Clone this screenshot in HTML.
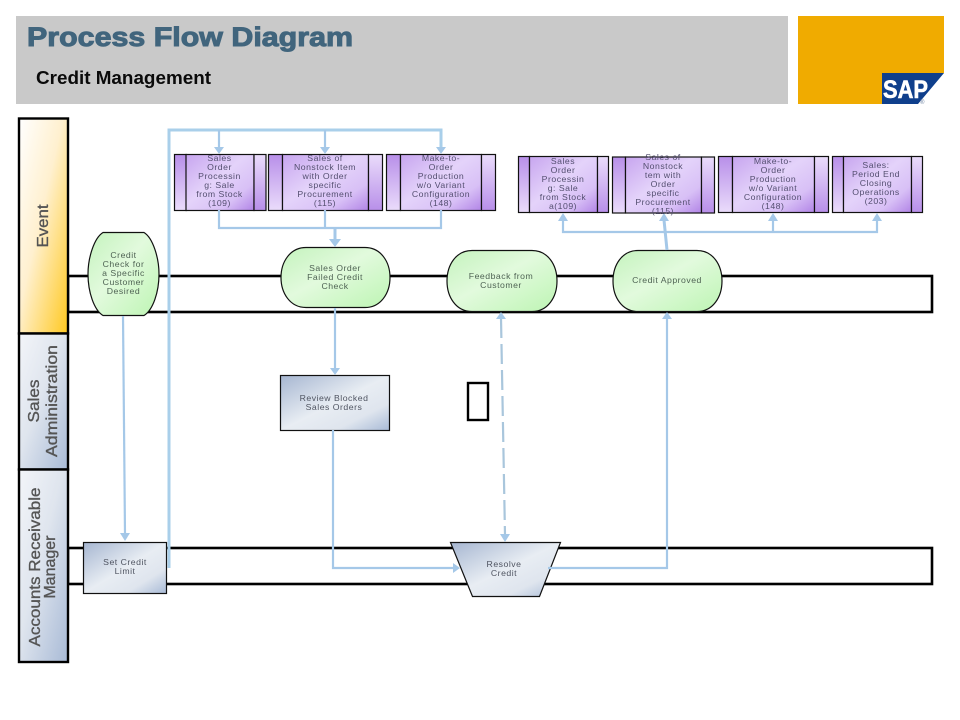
<!DOCTYPE html>
<html lang="en">
<head>
<meta charset="utf-8">
<title>Process Flow Diagram</title>
<style>
html,body{margin:0;padding:0;background:#fff;width:960px;height:720px;overflow:hidden}
svg{display:block;font-family:"Liberation Sans",Arial,sans-serif}
.n{font-size:8.7px;letter-spacing:.5px;fill:#544f70;text-anchor:middle}
.g{font-size:8.7px;letter-spacing:.5px;fill:#4f6354;text-anchor:middle}
.b{font-size:8.7px;letter-spacing:.5px;fill:#4f5461;text-anchor:middle}
.l{font-size:16px;fill:#555;stroke:#555;stroke-width:.35;text-anchor:middle}
.c{fill:none;stroke:#a5c8e8;stroke-width:2.2}
.a{fill:#a5c8e8}
.bx{stroke:#111;stroke-width:1.2}
</style>
</head>
<body>
<svg width="960" height="720" viewBox="0 0 960 720" xmlns="http://www.w3.org/2000/svg">
<defs>
<linearGradient id="ev" x1="0" y1="0" x2="1" y2="1"><stop offset="0" stop-color="#fff"/><stop offset=".45" stop-color="#fff0cf"/><stop offset="1" stop-color="#ffc81f"/></linearGradient>
<linearGradient id="bl" x1="0" y1="0" x2="1" y2="1"><stop offset="0" stop-color="#f3f5f9"/><stop offset=".45" stop-color="#dfe5ee"/><stop offset="1" stop-color="#a8bad6"/></linearGradient>
<linearGradient id="bx" x1="0" y1="0" x2="1" y2="1"><stop offset="0" stop-color="#a6b6d1"/><stop offset=".5" stop-color="#e8edf3"/><stop offset=".75" stop-color="#dfe5ee"/><stop offset="1" stop-color="#a8bad6"/></linearGradient>
<linearGradient id="gr" x1="0" y1="0" x2="1" y2="1"><stop offset="0" stop-color="#c4f3bd"/><stop offset=".45" stop-color="#e2fadd"/><stop offset="1" stop-color="#bdf5b3"/></linearGradient>
<linearGradient id="pm" x1="0" y1="0" x2="1" y2="1"><stop offset="0" stop-color="#c7a5ef"/><stop offset=".45" stop-color="#e4d3fa"/><stop offset=".75" stop-color="#d8c0f6"/><stop offset="1" stop-color="#b184e6"/></linearGradient>
<linearGradient id="pl" x1="0" y1="0" x2="0" y2="1"><stop offset="0" stop-color="#b88fe9"/><stop offset="1" stop-color="#eadcfb"/></linearGradient>
<linearGradient id="pr" x1="0" y1="0" x2="0" y2="1"><stop offset="0" stop-color="#eadcfb"/><stop offset="1" stop-color="#b88fe9"/></linearGradient>
</defs>

<!-- Header -->
<rect x="16" y="16" width="772" height="88" fill="#c9c9c9"/>
<text x="27" y="46" font-size="27" font-weight="bold" fill="#41657d" stroke="#41657d" stroke-width="1" textLength="326" lengthAdjust="spacingAndGlyphs">Process Flow Diagram</text>
<text x="36" y="84" font-size="18" font-weight="bold" fill="#0a0a0a" textLength="175" lengthAdjust="spacingAndGlyphs">Credit Management</text>

<!-- Logo -->
<rect x="798" y="16" width="146" height="88" fill="#f0ab00"/>
<polygon points="882,73 944,73 944,104 882,104" fill="#fff"/>
<polygon points="882,73 944,73 918,104 882,104" fill="#0f3f8c"/>
<text x="883" y="98" font-size="25" font-weight="bold" fill="#fff" stroke="#fff" stroke-width=".6" textLength="45" lengthAdjust="spacingAndGlyphs">SAP</text>
<text x="920" y="104" font-size="6" fill="#6a7f9f">®</text>

<!-- Swimlane bars -->
<rect x="68" y="276" width="864" height="36" fill="none" stroke="#000" stroke-width="2.6"/>
<rect x="68" y="548" width="864" height="36" fill="none" stroke="#000" stroke-width="2.6"/>

<!-- Lane headers -->
<rect x="19" y="118.500" width="49" height="215" fill="url(#ev)" stroke="#000" stroke-width="2.4"/>
<rect x="19" y="333.500" width="49" height="136" fill="url(#bl)" stroke="#000" stroke-width="2.4"/>
<rect x="19" y="469.500" width="49" height="192.500" fill="url(#bl)" stroke="#000" stroke-width="2.4"/>
<text class="l" transform="translate(48,226) rotate(-90)" textLength="43" lengthAdjust="spacingAndGlyphs">Event</text>
<text class="l" transform="translate(39,401) rotate(-90)" textLength="43" lengthAdjust="spacingAndGlyphs">Sales</text>
<text class="l" transform="translate(57,401) rotate(-90)" textLength="112" lengthAdjust="spacingAndGlyphs">Administration</text>
<text class="l" transform="translate(40,567) rotate(-90)" textLength="159" lengthAdjust="spacingAndGlyphs">Accounts Receivable</text>
<text class="l" transform="translate(55,567) rotate(-90)" textLength="63" lengthAdjust="spacingAndGlyphs">Manager</text>

<!-- Small empty box -->
<rect x="468" y="383" width="20" height="37" fill="#fff" stroke="#000" stroke-width="2.4"/>

<!-- Rounded event nodes -->
<path d="M103,232.500H144C153,238 159,258 159,274C159,292 153,310 144,315.500H103C94,310 88,292 88,274C88,258 94,238 103,232.500Z" fill="url(#gr)" stroke="#111" stroke-width="1.2"/>
<path d="M306,247.500H365C381,247.500 390,262 390,277.500C390,293 381,307.500 365,307.500H306C290,307.500 281,293 281,277.500C281,262 290,247.500 306,247.500Z" fill="url(#gr)" stroke="#111" stroke-width="1.2"/>
<path d="M472,250.500H532C548,250.500 557,265 557,281C557,297 548,311.500 532,311.500H472C456,311.500 447,297 447,281C447,265 456,250.500 472,250.500Z" fill="url(#gr)" stroke="#111" stroke-width="1.2"/>
<path d="M638,250.500H697C713,250.500 722,265 722,281C722,297 713,311.500 697,311.500H638C622,311.500 613,297 613,281C613,265 622,250.500 638,250.500Z" fill="url(#gr)" stroke="#111" stroke-width="1.2"/>

<!-- Process nodes -->
<rect x="280.500" y="375.500" width="109" height="55" fill="url(#bx)" stroke="#111" stroke-width="1.2"/>
<rect x="83.500" y="542.500" width="83" height="51" fill="url(#bx)" stroke="#111" stroke-width="1.2"/>
<polygon points="450.500,542.500 560.500,542.500 539.500,596.500 472.500,596.500" fill="url(#bx)" stroke="#111" stroke-width="1.2"/>

<!-- Purple boxes -->
<g class="bx">
<rect x="174.500" y="154.500" width="12" height="56" fill="url(#pl)"/><rect x="186" y="154.500" width="68" height="56" fill="url(#pm)"/><rect x="254" y="154.500" width="12" height="56" fill="url(#pr)"/>
<rect x="268.500" y="154.500" width="14" height="56" fill="url(#pl)"/><rect x="282.500" y="154.500" width="86" height="56" fill="url(#pm)"/><rect x="368.500" y="154.500" width="14" height="56" fill="url(#pr)"/>
<rect x="386.500" y="154.500" width="14" height="56" fill="url(#pl)"/><rect x="400.500" y="154.500" width="81" height="56" fill="url(#pm)"/><rect x="481.500" y="154.500" width="14" height="56" fill="url(#pr)"/>
<rect x="518.500" y="156.500" width="11" height="56" fill="url(#pl)"/><rect x="529.500" y="156.500" width="68" height="56" fill="url(#pm)"/><rect x="597.500" y="156.500" width="11" height="56" fill="url(#pr)"/>
<rect x="612.500" y="157" width="13" height="56" fill="url(#pl)"/><rect x="625.500" y="157" width="76" height="56" fill="url(#pm)"/><rect x="701.500" y="157" width="13" height="56" fill="url(#pr)"/>
<rect x="718.500" y="156.500" width="14" height="56" fill="url(#pl)"/><rect x="732.500" y="156.500" width="82" height="56" fill="url(#pm)"/><rect x="814.500" y="156.500" width="14" height="56" fill="url(#pr)"/>
<rect x="832.500" y="156.500" width="11" height="56" fill="url(#pl)"/><rect x="843.500" y="156.500" width="68" height="56" fill="url(#pm)"/><rect x="911.500" y="156.500" width="11" height="56" fill="url(#pr)"/>
</g>

<!-- Connectors -->
<path d="M169,568V130H441V148" fill="none" stroke="#a9cfea" stroke-width="3"/>
<path class="c" d="M219,130V148M325,130V148"/>
<polygon class="a" points="214,147 224,147 219,154"/>
<polygon class="a" points="320,147 330,147 325,154"/>
<polygon class="a" points="436,147 446,147 441,154"/>
<path class="c" d="M219,210V228H441V210M325,210V228"/>
<path d="M335,228V240" fill="none" stroke="#a5c8e8" stroke-width="3"/>
<polygon class="a" points="329,239 341,239 335,247"/>
<path class="c" d="M123,316L125,534"/>
<polygon class="a" points="120,533 130,533 125,541"/>
<path class="c" d="M335,308V369"/>
<polygon class="a" points="330,368 340,368 335,375"/>
<path class="c" d="M333,430V568H454"/>
<polygon class="a" points="453,563 453,573 460,568"/>
<path d="M501,318L505,535" fill="none" stroke="#a9c6dc" stroke-width="2.2" stroke-dasharray="20 6"/>
<polygon class="a" points="496,319 506,319 501,312"/>
<polygon class="a" points="500,534 510,534 505,542"/>
<path class="c" d="M548,568H667V318"/>
<polygon class="a" points="662,319 672,319 667,312"/>
<path d="M667,250L664,220" fill="none" stroke="#a5c8e8" stroke-width="3"/>
<polygon class="a" points="659,221 669,221 664,213"/>
<path class="c" d="M563,220V232H877V220M773,232V220"/>
<polygon class="a" points="558,221 568,221 563,213"/>
<polygon class="a" points="768,221 778,221 773,213"/>
<polygon class="a" points="872,221 882,221 877,213"/>

<!-- Labels -->
<text class="g"><tspan x="123.500" y="258">Credit</tspan><tspan x="123.500" y="267">Check for</tspan><tspan x="123.500" y="276">a Specific</tspan><tspan x="123.500" y="285">Customer</tspan><tspan x="123.500" y="294">Desired</tspan></text>
<text class="g"><tspan x="335" y="271">Sales Order</tspan><tspan x="335" y="280">Failed Credit</tspan><tspan x="335" y="289">Check</tspan></text>
<text class="g"><tspan x="501" y="279">Feedback from</tspan><tspan x="501" y="288">Customer</tspan></text>
<text class="g"><tspan x="667" y="283">Credit Approved</tspan></text>

<text class="n"><tspan x="219.500" y="161">Sales</tspan><tspan x="219.500" y="170">Order</tspan><tspan x="219.500" y="179">Processin</tspan><tspan x="219.500" y="188">g: Sale</tspan><tspan x="219.500" y="197">from Stock</tspan><tspan x="219.500" y="206">(109)</tspan></text>
<text class="n"><tspan x="325" y="161">Sales of</tspan><tspan x="325" y="170">Nonstock Item</tspan><tspan x="325" y="179">with Order</tspan><tspan x="325" y="188">specific</tspan><tspan x="325" y="197">Procurement</tspan><tspan x="325" y="206">(115)</tspan></text>
<text class="n"><tspan x="441" y="161">Make-to-</tspan><tspan x="441" y="170">Order</tspan><tspan x="441" y="179">Production</tspan><tspan x="441" y="188">w/o Variant</tspan><tspan x="441" y="197">Configuration</tspan><tspan x="441" y="206">(148)</tspan></text>

<text class="n"><tspan x="563" y="164">Sales</tspan><tspan x="563" y="173">Order</tspan><tspan x="563" y="182">Processin</tspan><tspan x="563" y="191">g: Sale</tspan><tspan x="563" y="200">from Stock</tspan><tspan x="563" y="209">a(109)</tspan></text>
<text class="n"><tspan x="663" y="160">Sales of</tspan><tspan x="663" y="169">Nonstock</tspan><tspan x="663" y="178">tem with</tspan><tspan x="663" y="187">Order</tspan><tspan x="663" y="196">specific</tspan><tspan x="663" y="205">Procurement</tspan><tspan x="663" y="214">(115)</tspan></text>
<text class="n"><tspan x="773" y="164">Make-to-</tspan><tspan x="773" y="173">Order</tspan><tspan x="773" y="182">Production</tspan><tspan x="773" y="191">w/o Variant</tspan><tspan x="773" y="200">Configuration</tspan><tspan x="773" y="209">(148)</tspan></text>
<text class="n"><tspan x="876" y="168">Sales:</tspan><tspan x="876" y="177">Period End</tspan><tspan x="876" y="186">Closing</tspan><tspan x="876" y="195">Operations</tspan><tspan x="876" y="204">(203)</tspan></text>

<text class="b"><tspan x="334" y="401">Review Blocked</tspan><tspan x="334" y="410">Sales Orders</tspan></text>
<text class="b"><tspan x="125" y="565">Set Credit</tspan><tspan x="125" y="574">Limit</tspan></text>
<text class="b"><tspan x="504" y="567">Resolve</tspan><tspan x="504" y="576">Credit</tspan></text>
</svg>
</body>
</html>
